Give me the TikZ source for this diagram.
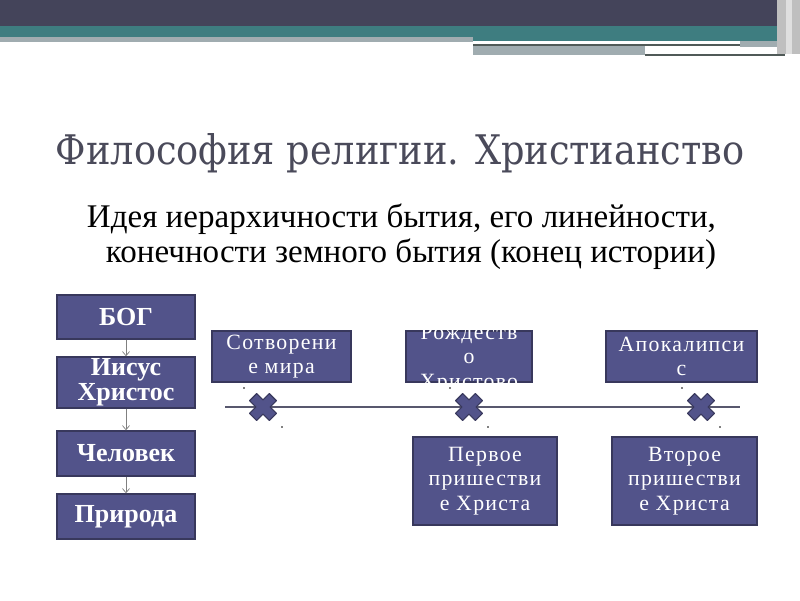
\documentclass[tikz,border=0pt]{standalone}
\usepackage{fontspec}
\setmainfont{Liberation Serif}
\newfontfamily\titlefont{DejaVu Serif Condensed}
\usetikzlibrary{arrows.meta, calc}
\definecolor{bandtop}{RGB}{68,68,90}
\definecolor{bandteal}{RGB}{62,125,128}
\definecolor{bandgray}{RGB}{160,172,176}
\definecolor{bandline}{RGB}{80,90,88}
\definecolor{titlegray}{RGB}{74,74,90}
\definecolor{boxblue}{RGB}{82,83,138}
\definecolor{boxedge}{RGB}{56,56,92}
\definecolor{axisgray}{RGB}{88,88,110}
\tikzset{
  box/.style={rectangle, draw=boxedge, line width=1pt, fill=boxblue, text=white,
    align=center, inner sep=0pt},
  levelbox/.style={box, minimum width=3.45cm, font=\bfseries\fontsize{18.5}{18}\selectfont},
  eventbox/.style={box, font=\addfontfeature{LetterSpace=6}\fontsize{15.5}{17.5}\selectfont},
  down/.style={draw=gray, line width=0.5pt, -{Straight Barb[length=3pt,width=5pt]}},
  crossmark/.style={fill=boxblue, draw=boxedge, line width=0.8pt, line join=round}
}
\begin{document}
\begin{tikzpicture}[x=0.025cm, y=-0.025cm]
\useasboundingbox (0,0) rectangle (800,600);
% header band
\fill[bandtop] (0,0) rectangle (777,26);
\fill[bandteal] (0,26) rectangle (777,37);
\fill[bandgray] (0,37) rectangle (473,42);
\fill[bandteal] (473,37) rectangle (777,41);
\fill[bandline] (473,44) rectangle (740,46);
\fill[bandgray] (740,41) rectangle (777,47);
\fill[bandgray] (473,46) rectangle (645,55);
\fill[bandline] (645,54) rectangle (785,56);
\fill[gray!50] (777,0) rectangle (800,54);
\fill[gray!25] (786,0) rectangle (792,54);

% title and text
\node[anchor=base, text=titlegray, font=\titlefont\fontsize{29}{34}\selectfont] (title) at (400,164)
  {Философия религии. Христианство};
\node[anchor=north east, align=right, font=\fontsize{23.5}{24.5}\selectfont] (idea) at (721,199)
  {Идея иерархичности бытия, его линейности,\\конечности земного бытия (конец истории)};

% hierarchy
\node[levelbox, minimum height=1.1cm] (bog) at (126,317) {БОГ};
\node[levelbox, minimum height=1.275cm] (jesus) at (126,382.5) {Иисус\\Христос};
\node[levelbox, minimum height=1.125cm] (man) at (126,453.5) {Человек};
\node[levelbox, minimum height=1.125cm] (nature) at (126,516.5) {Природа};
\draw[down] (bog) -- (jesus);
\draw[down] (jesus) -- (man);
\draw[down] (man) -- (nature);

% timeline
\coordinate (tl-start) at (225,407);
\coordinate (tl-end) at (740,407);
\draw[axisgray, line width=1.5pt] (tl-start) -- (tl-end);
\foreach \n/\x in {c1/263, c2/469, c3/701}{
  \coordinate (\n) at (\x,407);
  \draw[crossmark, shift={(\n)}, rotate=45]
    (5,14) -- (5,5) -- (14,5) -- (14,-5) -- (5,-5) -- (5,-14) -- (-5,-14) -- (-5,-5)
    -- (-14,-5) -- (-14,5) -- (-5,5) -- (-5,14) -- cycle;
  \fill[black] ($(\n)+(-19,-19)$) circle (0.8);
  \fill[black] ($(\n)+(19,20)$) circle (0.8);
}

\node[eventbox, minimum width=3.475cm, minimum height=1.275cm] (creation) at (281.5,356.5) {Сотворени\\е мира};
\node[eventbox, minimum width=3.15cm, minimum height=1.275cm] (birth) at (469,356.5) {};
\begin{scope}
  \clip (birth.south west) rectangle (birth.north east);
  \node[eventbox, draw=none, fill=none] (birth-text) at (469,359) {Рождеств\\о\\Христово};
\end{scope}
\node[eventbox, minimum width=3.775cm, minimum height=1.275cm] (apoc) at (681.5,356.5) {Апокалипси\\с};
\node[eventbox, minimum width=3.6cm, minimum height=2.2cm] (first) at (485,481) {Первое\\пришестви\\е Христа};
\node[eventbox, minimum width=3.625cm, minimum height=2.2cm] (second) at (684.5,481) {Второе\\пришестви\\е Христа};
\end{tikzpicture}
\end{document}
